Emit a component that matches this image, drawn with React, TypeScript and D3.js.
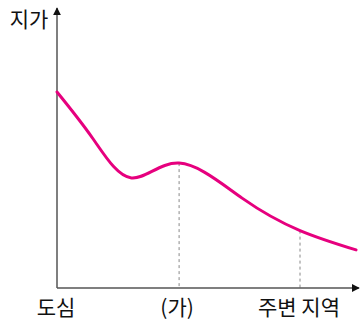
import React from "react";
import * as d3 from "d3";

const distance = [0, 12, 24.8, 40.7, 61.7, 81, 99.7];
const landPrice = [70, 53.3, 39.3, 44.6, 32.1, 20.5, 13.6];
const xLabels = ["도심", "(가)", "주변 지역"];
const xLabelPos = [0, 40.7, 81];
const dashedAt = [40.7, 81];
const yLabel = "지가";

const W = 360;
const H = 323;
const FONT = "'Noto Sans CJK KR', 'Noto Sans', sans-serif";

export default function App() {
  const x = d3.scaleLinear().domain([0, 100]).range([57, 357]);
  const y = d3.scaleLinear().domain([0, 100]).range([288, 8]);
  const pts = distance.map((d, i) => [d, landPrice[i]] as [number, number]);
  const line = d3
    .line<[number, number]>()
    .x((d) => x(d[0]))
    .y((d) => y(d[1]))
    .curve(d3.curveNatural);
  const valAt = (d: number) => landPrice[distance.indexOf(d)];
  const x0 = x(0);
  const y0 = y(0);
  return (
    <svg
      width={W}
      height={H}
      style={{ position: "absolute", left: 0, top: 0, background: "#fff" }}
    >
      <defs>
        <marker id="arr" viewBox="0 0 10 10" refX="9" refY="5" markerWidth="8" markerHeight="8" markerUnits="userSpaceOnUse" orient="auto">
          <path d="M0,0 L10,5 L0,10 z" fill="#111" />
        </marker>
      </defs>
      {dashedAt.map((d, i) => (
        <line
          key={i}
          x1={x(d)}
          x2={x(d)}
          y1={y(valAt(d))}
          y2={y0}
          stroke="#888"
          strokeWidth={1}
          strokeDasharray="3,3"
        />
      ))}
      <line x1={x0} y1={y0} x2={x0} y2={8} stroke="#555" strokeWidth={1.5} markerEnd="url(#arr)" />
      <line x1={x0} y1={y0} x2={359} y2={y0} stroke="#555" strokeWidth={1.5} markerEnd="url(#arr)" />
      <path d={line(pts) || ""} fill="none" stroke="#e6007e" strokeWidth={3} strokeLinecap="round" />
      <text x={29} y={27} textAnchor="middle" fontFamily={FONT} fontSize={21} fill="#111">
        {yLabel}
      </text>
      {xLabels.map((l, i) => (
        <text
          key={i}
          x={i === 0 ? 56 : i === 1 ? x(xLabelPos[i]) - 2 : x(xLabelPos[i]) - 1}
          y={315}
          textAnchor="middle"
          fontFamily={FONT}
          fontSize={21}
          fill="#111"
        >
          {l}
        </text>
      ))}
    </svg>
  );
}
